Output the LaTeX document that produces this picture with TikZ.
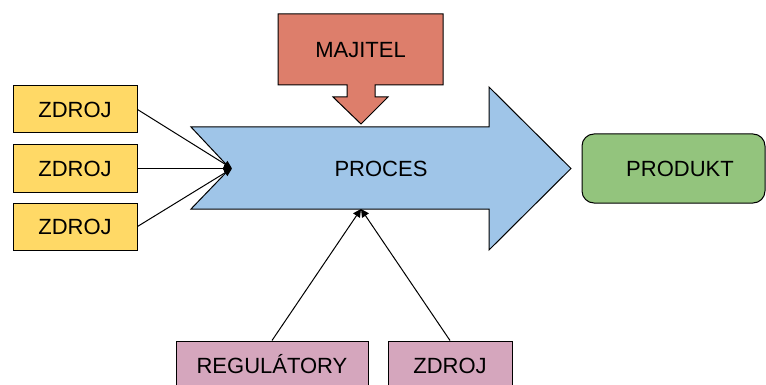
\documentclass[tikz,border=0pt]{standalone}
\usepackage{fontspec}
\setmainfont{Liberation Sans}
\usetikzlibrary{arrows.meta}
\definecolor{srcyellow}{HTML}{FFD966}
\definecolor{ownerred}{HTML}{DD7E6B}
\definecolor{procblue}{HTML}{9FC5E8}
\definecolor{prodgreen}{HTML}{93C47D}
\definecolor{regpink}{HTML}{D5A6BD}
\begin{document}
\begin{tikzpicture}[x=1pt,y=-1pt,
  lbl/.style={font=\fontsize{22}{26}\selectfont, text height=15.8pt, text depth=0pt, inner sep=0pt},
  box/.style={lbl, draw=black, line width=1pt},
  srcbox/.style={box, fill=srcyellow, minimum width=124pt, minimum height=47pt},
  regbox/.style={box, fill=regpink, minimum height=50pt},
  shapeline/.style={draw=black, line width=1pt, line join=miter},
  link/.style={line width=1pt, -{Triangle[length=8pt,width=8pt]}}]
\useasboundingbox (0,0) rectangle (766,385);
\clip (0,0) rectangle (766,385);

% process arrow with notched tail
\path[shapeline, fill=procblue]
  (191,127) -- (489,127) -- (489,87) -- (571,168.5) -- (489,250)
  -- (489,209) -- (191,209) -- (230,168.5) -- cycle;
\node[lbl] (proces) at (381,168.5) {PROCES};
\coordinate (notch) at (232,168.5);
\coordinate (pbottom) at (361,209);

% owner block pointing down into the process
\path[shapeline, fill=ownerred]
  (278,14) -- (443,14) -- (443,85) -- (375,85) -- (375,97) -- (388,97)
  -- (361,124) -- (333,97) -- (347,97) -- (347,85) -- (278,85) -- cycle;
\node[lbl] (majitel) at (360.5,50) {MAJITEL};

% product
\node[box, fill=prodgreen, rounded corners=12pt, minimum width=183pt,
  minimum height=69pt] (produkt) at (673.5,168.5) {\hspace*{13pt}PRODUKT};

% sources
\node[srcbox] (z1) at (75,109.5) {ZDROJ};
\node[srcbox] (z2) at (75,168.5) {ZDROJ};
\node[srcbox] (z3) at (75,226.5) {ZDROJ};

% regulators and extra source below
\node[regbox, minimum width=192pt] (reg) at (272,366) {REGULÁTORY};
\node[regbox, minimum width=124pt] (z4) at (450,366) {ZDROJ};

% connectors
\draw[link] (z1.east) -- (notch);
\draw[link] (z2.east) -- (notch);
\draw[link] (z3.east) -- (notch);
\draw[link] (reg.north) -- (pbottom);
\draw[link] (z4.north) -- (pbottom);
\end{tikzpicture}
\end{document}
